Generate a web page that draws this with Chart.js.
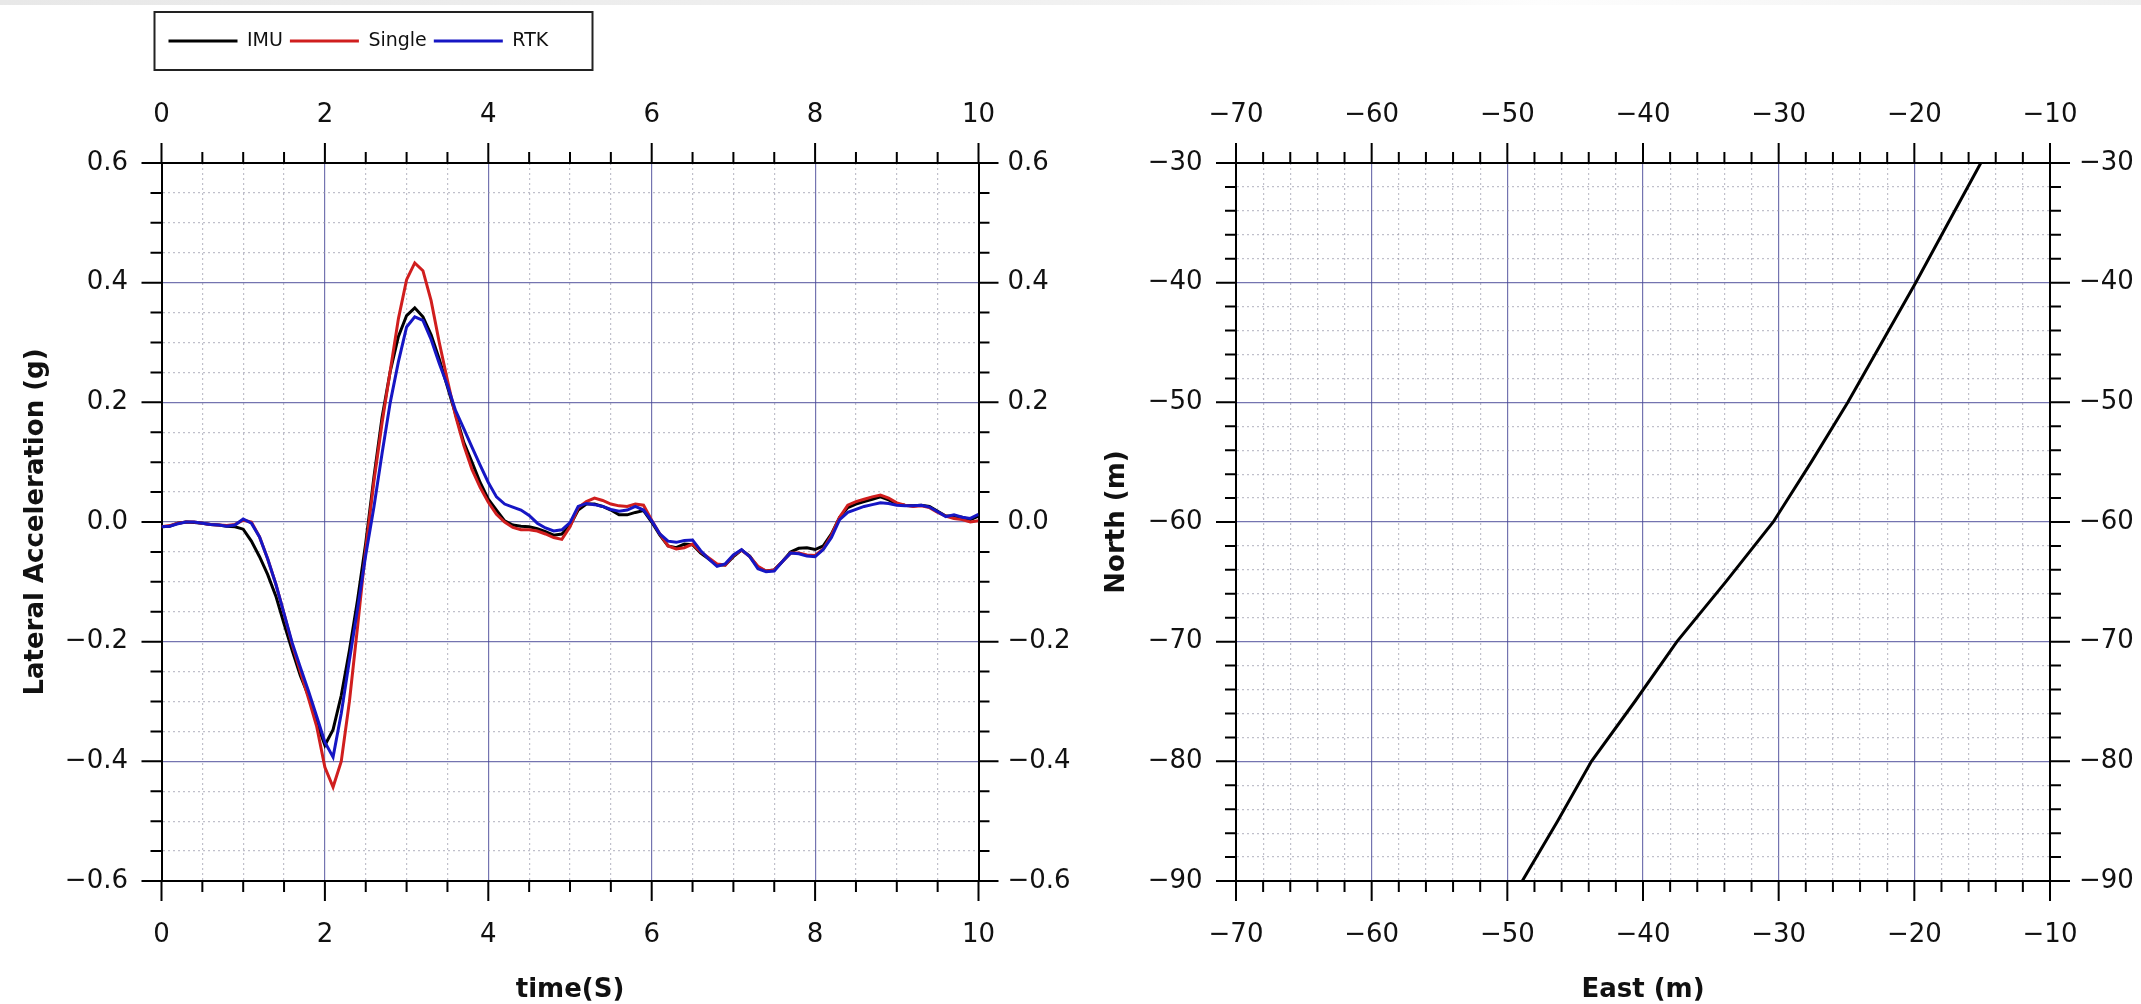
<!DOCTYPE html>
<html>
<head>
<meta charset="utf-8">
<script src="https://cdn.jsdelivr.net/npm/chart.js@4.4.1/dist/chart.umd.min.js"></script>
<style>
  body { margin: 0; background: #fff; width: 2141px; height: 1004px; overflow: hidden; position: relative; }
  .strip { position: absolute; left: 0; top: 0; width: 2141px; height: 5px;
           background: linear-gradient(to right, #e8e8e8, #f2f2f2 55%, #fdfdfd 72%, #efefef); }
</style>
</head>
<body>
<div class="strip"></div>
<canvas id="accelChart" width="1080" height="1004" style="position:absolute;left:0;top:0"></canvas>
<canvas id="trackChart" width="1061" height="1004" style="position:absolute;left:1080px;top:0"></canvas>
<script>
// time axis (s)
const timeS = [
  0.0, 0.1, 0.2, 0.3, 0.4, 0.5, 0.6, 0.7, 0.8, 0.9,
  1.0, 1.1, 1.2, 1.3, 1.4, 1.5, 1.6, 1.7, 1.8, 1.9,
  2.0, 2.1, 2.2, 2.3, 2.4, 2.5, 2.6, 2.7, 2.8, 2.9,
  3.0, 3.1, 3.2, 3.3, 3.4, 3.5, 3.6, 3.7, 3.8, 3.9,
  4.0, 4.1, 4.2, 4.3, 4.4, 4.5, 4.6, 4.7, 4.8, 4.9,
  5.0, 5.1, 5.2, 5.3, 5.4, 5.5, 5.6, 5.7, 5.8, 5.9,
  6.0, 6.1, 6.2, 6.3, 6.4, 6.5, 6.6, 6.7, 6.8, 6.9,
  7.0, 7.1, 7.2, 7.3, 7.4, 7.5, 7.6, 7.7, 7.8, 7.9,
  8.0, 8.1, 8.2, 8.3, 8.4, 8.5, 8.6, 8.7, 8.8, 8.9,
  9.0, 9.1, 9.2, 9.3, 9.4, 9.5, 9.6, 9.7, 9.8, 9.9,
  10.0
];

// lateral acceleration (g)
const imuAccel = [
  -0.008, -0.007, -0.002, 0.000, -0.001, -0.002, -0.004, -0.005, -0.007, -0.008,
  -0.012, -0.032, -0.058, -0.088, -0.124, -0.170, -0.215, -0.257, -0.291, -0.335,
  -0.373, -0.347, -0.290, -0.215, -0.130, -0.035, 0.075, 0.175, 0.252, 0.310,
  0.345, 0.358, 0.343, 0.313, 0.272, 0.226, 0.180, 0.133, 0.100, 0.066,
  0.038, 0.020, 0.002, -0.005, -0.007, -0.008, -0.011, -0.016, -0.022, -0.020,
  -0.006, 0.020, 0.030, 0.030, 0.026, 0.020, 0.012, 0.012, 0.016, 0.019,
  0.000, -0.022, -0.040, -0.043, -0.037, -0.038, -0.052, -0.062, -0.072, -0.072,
  -0.058, -0.047, -0.057, -0.076, -0.082, -0.080, -0.066, -0.050, -0.044, -0.043,
  -0.046, -0.040, -0.020, 0.008, 0.024, 0.030, 0.034, 0.038, 0.042, 0.037,
  0.030, 0.028, 0.027, 0.028, 0.026, 0.018, 0.010, 0.010, 0.008, 0.004,
  0.010
];
const singleAccel = [
  -0.008, -0.006, -0.002, 0.000, 0.000, -0.002, -0.004, -0.005, -0.006, -0.004,
  0.003, 0.000, -0.025, -0.062, -0.104, -0.153, -0.205, -0.250, -0.295, -0.342,
  -0.410, -0.443, -0.400, -0.300, -0.175, -0.045, 0.068, 0.166, 0.253, 0.340,
  0.405, 0.433, 0.420, 0.370, 0.300, 0.237, 0.177, 0.128, 0.088, 0.058,
  0.033, 0.013, 0.000, -0.009, -0.013, -0.013, -0.015, -0.020, -0.026, -0.029,
  -0.008, 0.024, 0.034, 0.040, 0.036, 0.030, 0.027, 0.026, 0.030, 0.028,
  0.003, -0.020, -0.040, -0.045, -0.043, -0.037, -0.050, -0.060, -0.070, -0.072,
  -0.056, -0.047, -0.058, -0.074, -0.082, -0.080, -0.066, -0.052, -0.052, -0.055,
  -0.056, -0.045, -0.022, 0.008, 0.028, 0.034, 0.038, 0.042, 0.045, 0.040,
  0.032, 0.028, 0.026, 0.027, 0.024, 0.016, 0.010, 0.006, 0.004, 0.000,
  0.002
];
const rtkAccel = [
  -0.008, -0.007, -0.003, 0.000, 0.000, -0.002, -0.004, -0.005, -0.007, -0.005,
  0.005, -0.002, -0.025, -0.062, -0.104, -0.153, -0.202, -0.243, -0.283, -0.325,
  -0.368, -0.393, -0.320, -0.231, -0.145, -0.055, 0.025, 0.115, 0.200, 0.268,
  0.326, 0.343, 0.337, 0.305, 0.265, 0.228, 0.186, 0.156, 0.125, 0.095,
  0.066, 0.042, 0.030, 0.025, 0.020, 0.011, -0.002, -0.010, -0.015, -0.013,
  -0.001, 0.026, 0.031, 0.029, 0.026, 0.021, 0.018, 0.020, 0.026, 0.020,
  0.002, -0.020, -0.032, -0.034, -0.031, -0.030, -0.048, -0.062, -0.074, -0.070,
  -0.055, -0.046, -0.058, -0.078, -0.083, -0.082, -0.066, -0.052, -0.053, -0.057,
  -0.058, -0.046, -0.026, 0.004, 0.016, 0.021, 0.026, 0.029, 0.032, 0.031,
  0.028, 0.027, 0.027, 0.028, 0.025, 0.017, 0.009, 0.012, 0.008, 0.006,
  0.013
];

// vehicle track (m)
const trackEast  = [-48.9, -46.3, -43.8, -40.6, -37.5, -33.9, -30.4, -27.6, -24.9, -22.4, -19.9, -17.5, -15.1];
const trackNorth = [-90, -85, -80, -75, -70, -65, -60, -55, -50, -45, -40, -35, -30];

// labelled (major) ticks
const timeTicks  = [0, 2, 4, 6, 8, 10];
const accelTicks = [-0.6, -0.4, -0.2, 0.0, 0.2, 0.4, 0.6];
const eastTicks  = [-70, -60, -50, -40, -30, -20, -10];
const northTicks = [-90, -80, -70, -60, -50, -40, -30];

const FONT = "'DejaVu Sans', sans-serif";
Chart.defaults.font.family = FONT;
Chart.defaults.color = '#111';

const MAJOR_GRID = 'rgba(70, 70, 150, 0.75)';
const MINOR_GRID = 'rgba(150, 150, 168, 0.6)';
const tickFont = { size: 26, family: FONT };
const titleFont = { size: 26, weight: 'bold', family: FONT, lineHeight: 1.05 };

const isMajor = (v, majors) => majors.some(m => Math.abs(m - v) < 1e-6);
const minus = s => s.replace('-', '\u2212');

// one axis: labels only on major ticks, dotted minor grid
function axis(position, majors, step, digits, pad, extra) {
  const lo = majors[0], hi = majors[majors.length - 1];
  const side = position === 'top' || position === 'right';
  return Object.assign({
    type: 'linear',
    position: position,
    min: lo,
    max: hi,
    ticks: {
      stepSize: step,
      autoSkip: false,
      maxRotation: 0,
      padding: pad,
      font: tickFont,
      color: '#111',
      callback: v => {
        if (!isMajor(v, majors)) return '';
        if (Math.abs(v) < 1e-9) return (0).toFixed(digits);
        return minus(v.toFixed(digits));
      }
    },
    grid: {
      drawOnChartArea: !side,
      color: c => c.tick && isMajor(c.tick.value, majors) ? MAJOR_GRID : MINOR_GRID,
      lineWidth: 1.2,
      tickLength: 20,
      tickColor: 'transparent'
    },
    border: {
      color: '#000',
      width: 2,
      dash: c => c.tick && !isMajor(c.tick.value, majors) ? [2, 3] : []
    }
  }, extra);
}

// outward tick marks: long on labelled values, short between them
function tickMarks(majorsById) {
  return {
    id: 'tickMarks',
    afterDraw(chart) {
      const ctx = chart.ctx;
      ctx.save();
      ctx.strokeStyle = '#000';
      ctx.lineWidth = 2;
      for (const id in majorsById) {
        const s = chart.scales[id];
        ctx.beginPath();
        for (const t of s.ticks) {
          const p = s.getPixelForValue(t.value);
          const len = isMajor(t.value, majorsById[id]) ? 20 : 11;
          if (s.position === 'bottom') { ctx.moveTo(p, s.top); ctx.lineTo(p, s.top + len); }
          else if (s.position === 'top') { ctx.moveTo(p, s.bottom); ctx.lineTo(p, s.bottom - len); }
          else if (s.position === 'left') { ctx.moveTo(s.right, p); ctx.lineTo(s.right - len, p); }
          else { ctx.moveTo(s.left, p); ctx.lineTo(s.left + len, p); }
        }
        ctx.stroke();
      }
      ctx.restore();
    }
  };
}

// frame around the legend row
const legendFrame = {
  id: 'legendFrame',
  afterDraw(chart) {
    const hb = chart.legend && chart.legend.legendHitBoxes;
    if (!hb || !hb.length) return;
    const first = hb[0];
    const cy = first.top + first.height / 2;
    const x0 = first.left - 14;
    const ctx = chart.ctx;
    ctx.save();
    ctx.strokeStyle = '#222';
    ctx.lineWidth = 2;
    ctx.strokeRect(x0, cy - 29, 438, 58);
    ctx.restore();
  }
};

const pts = ys => timeS.map((t, i) => ({ x: t, y: ys[i] }));

// ---- lateral acceleration vs time ----
const AREA_L = { left: 161.5, right: 978.5, top: 163, bottom: 881 };
const PAD_TOP = 24.5;

new Chart(document.getElementById('accelChart'), {
  type: 'line',
  data: {
    datasets: [
      { label: 'IMU', data: pts(imuAccel), borderColor: '#000000', backgroundColor: '#000000', borderWidth: 3, order: 3 },
      { label: 'Single', data: pts(singleAccel), borderColor: '#d01e1e', backgroundColor: '#d01e1e', borderWidth: 3, order: 2 },
      { label: 'RTK', data: pts(rtkAccel), borderColor: '#1616c4', backgroundColor: '#1616c4', borderWidth: 3, order: 1 }
    ]
  },
  options: {
    responsive: false,
    animation: false,
    devicePixelRatio: 1,
    events: [],
    layout: { padding: { top: PAD_TOP, left: 0, right: 0, bottom: 0 } },
    elements: { point: { radius: 0 }, line: { tension: 0 } },
    scales: {
      x: axis('bottom', timeTicks, 0.5, 0, 19, {
        title: { display: true, text: 'time(S)', font: titleFont, color: '#111', padding: { top: 0, bottom: 0 } },
        afterFit: s => { s.height = 1004 - AREA_L.bottom; }
      }),
      x2: axis('top', timeTicks, 0.5, 0, 12, {
        afterFit: s => { s.height = AREA_L.top - PAD_TOP - s.chart.legend.height; }
      }),
      y: axis('left', accelTicks, 0.05, 1, 13.5, {
        title: { display: true, text: 'Lateral Acceleration (g)', font: titleFont, color: '#111', padding: { top: 23, bottom: 0 } },
        afterFit: s => { s.width = AREA_L.left; }
      }),
      y2: axis('right', accelTicks, 0.05, 1, 9, {
        afterFit: s => { s.width = 1080 - AREA_L.right; }
      })
    },
    plugins: {
      legend: {
        position: 'top',
        align: 'start',
        fullSize: false,
        labels: {
          usePointStyle: true,
          pointStyle: 'line',
          pointStyleWidth: 69,
          padding: 7,
          font: { size: 19, family: FONT },
          color: '#111',
          sort: (a, b) => a.datasetIndex - b.datasetIndex
        }
      },
      tooltip: { enabled: false }
    }
  },
  plugins: [tickMarks({ x: timeTicks, x2: timeTicks, y: accelTicks, y2: accelTicks }), legendFrame]
});

// ---- track in East/North ----
const AREA_R = { left: 156, right: 970, top: 163, bottom: 881 };

new Chart(document.getElementById('trackChart'), {
  type: 'line',
  data: {
    datasets: [{
      label: 'Track',
      data: trackEast.map((e, i) => ({ x: e, y: trackNorth[i] })),
      borderColor: '#000000',
      backgroundColor: '#000000',
      borderWidth: 3
    }]
  },
  options: {
    responsive: false,
    animation: false,
    devicePixelRatio: 1,
    events: [],
    layout: { padding: 0 },
    elements: { point: { radius: 0 }, line: { tension: 0 } },
    scales: {
      x: axis('bottom', eastTicks, 2, 0, 19, {
        title: { display: true, text: 'East (m)', font: titleFont, color: '#111', padding: { top: 0, bottom: 0 } },
        afterFit: s => { s.height = 1004 - AREA_R.bottom; }
      }),
      x2: axis('top', eastTicks, 2, 0, 12, {
        afterFit: s => { s.height = AREA_R.top; }
      }),
      y: axis('left', northTicks, 2, 0, 13.5, {
        title: { display: true, text: 'North (m)', font: titleFont, color: '#111', padding: { top: 24, bottom: 0 } },
        afterFit: s => { s.width = AREA_R.left; }
      }),
      y2: axis('right', northTicks, 2, 0, 9, {
        afterFit: s => { s.width = 1061 - AREA_R.right; }
      })
    },
    plugins: {
      legend: { display: false },
      tooltip: { enabled: false }
    }
  },
  plugins: [tickMarks({ x: eastTicks, x2: eastTicks, y: northTicks, y2: northTicks })]
});
</script>
</body>
</html>
